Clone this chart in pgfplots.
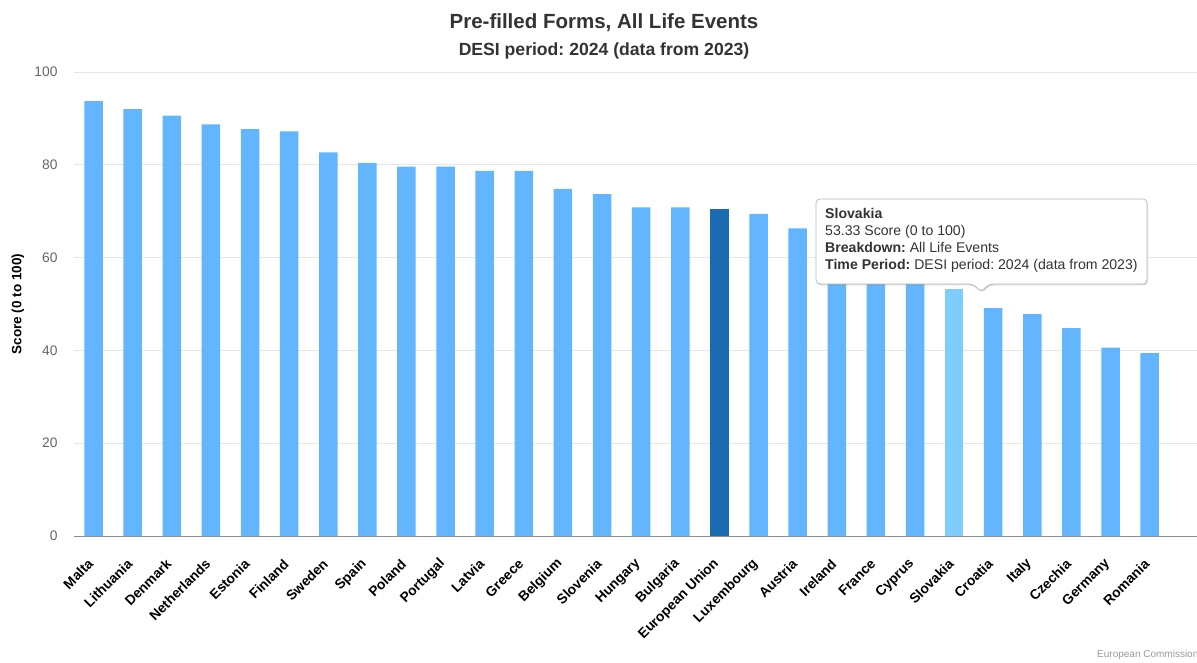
\documentclass[border=0pt]{standalone}
\usepackage{pgfplots}
\pgfplotsset{compat=1.18}
\usepackage{fontspec}
\setmainfont{Liberation Sans}
\usetikzlibrary{shadows}
\definecolor{barblue}{HTML}{63B5FE}
\definecolor{eublue}{HTML}{1A6BB0}
\definecolor{hoverblue}{HTML}{7FCDFF}
\definecolor{gridgray}{HTML}{E6E6E6}
\definecolor{ticktext}{HTML}{666666}
\definecolor{titletext}{HTML}{333333}
\frenchspacing
\begin{document}
\begin{tikzpicture}[x=1pt,y=1pt]
\useasboundingbox (0,0) rectangle (1197,662);
\begin{axis}[
  at={(74pt,126pt)}, anchor=south west,
  scale only axis, width=1123pt, height=464pt,
  xmin=-0.5, xmax=28.21, ymin=0, ymax=100,
  ytick={0,20,...,100},
  ymajorgrids, grid style={gridgray, line width=0.8pt},
  axis x line*=bottom, axis y line*=left,
  x axis line style={draw=gray!90, line width=1pt, -},
  y axis line style={draw=none},
  ytick style={draw=none}, xtick style={draw=none},
  xtick={0,...,27},
  xticklabels={Malta,Lithuania,Denmark,Netherlands,Estonia,Finland,Sweden,Spain,Poland,Portugal,Latvia,Greece,Belgium,Slovenia,Hungary,Bulgaria,European Union,Luxembourg,Austria,Ireland,France,Cyprus,Slovakia,Croatia,Italy,Czechia,Germany,Romania},
  xticklabel style={rotate=45, anchor=east, font=\fontsize{13.8}{15}\selectfont\bfseries, text=black, inner sep=1pt, yshift=-13pt, xshift=-16pt},
  /pgf/number format/assume math mode=true,
  yticklabel style={font=\fontsize{13.8}{15}\selectfont, text=ticktext, xshift=-13pt},
  ylabel={Score (0 to 100)},
  every axis y label/.style={at={(rel axis cs:0,0.5)}, rotate=90, anchor=center, yshift=56pt, font=\fontsize{13.5}{15}\selectfont\bfseries, text=black},
  ybar, bar width=18.5pt, bar shift=0pt,
  clip=false,
]
\addplot[fill=barblue, draw=none] coordinates {
(0,93.7) (1,92.0) (2,90.6) (3,88.7) (4,87.7) (5,87.2) (6,82.7) (7,80.4) (8,79.6) (9,79.6)
(10,78.7) (11,78.7) (12,74.8) (13,73.7) (14,70.8) (15,70.8) (17,69.4) (18,66.3) (19,64.0)
(20,61.0) (21,58.0) (23,49.1) (24,47.8) (25,44.8) (26,40.6) (27,39.4)};
\addplot[fill=eublue, draw=none] coordinates {(16,70.5)};
\addplot[fill=hoverblue, draw=none] coordinates {(22,53.33)};
\end{axis}
% titles
\node[font=\fontsize{20.5}{24}\selectfont\bfseries, text=titletext] at (604,639) {Pre-filled Forms, All Life Events};
\node[font=\fontsize{17.6}{20}\selectfont\bfseries, text=titletext] at (604,611) {DESI period: 2024 (data from 2023)};
% credits
\node[font=\fontsize{10}{12}\selectfont, text=gray!80, anchor=west, inner sep=0pt] at (1097,7) {European Commission};
% tooltip
\filldraw[draw=gray!55, fill=white, rounded corners=4pt, line width=0.8pt, drop shadow={opacity=0.25, shadow xshift=1pt, shadow yshift=-1.5pt}]
  (816,463) -- (1147,463) -- (1147,378) -- (989,378) -- (981,370) -- (973,378) -- (816,378) -- cycle;
\begin{scope}[font=\fontsize{14.1}{16}\selectfont, text=titletext]
\node[anchor=base west, inner sep=0pt] at (825,443) {\bfseries Slovakia};
\node[anchor=base west, inner sep=0pt] at (825,426) {53.33 Score (0 to 100)};
\node[anchor=base west, inner sep=0pt] at (825,409) {\bfseries Breakdown:\mdseries\ All Life Events};
\node[anchor=base west, inner sep=0pt] at (825,392) {\bfseries Time Period:\mdseries\ DESI period: 2024 (data from 2023)};
\end{scope}
\end{tikzpicture}
\end{document}
